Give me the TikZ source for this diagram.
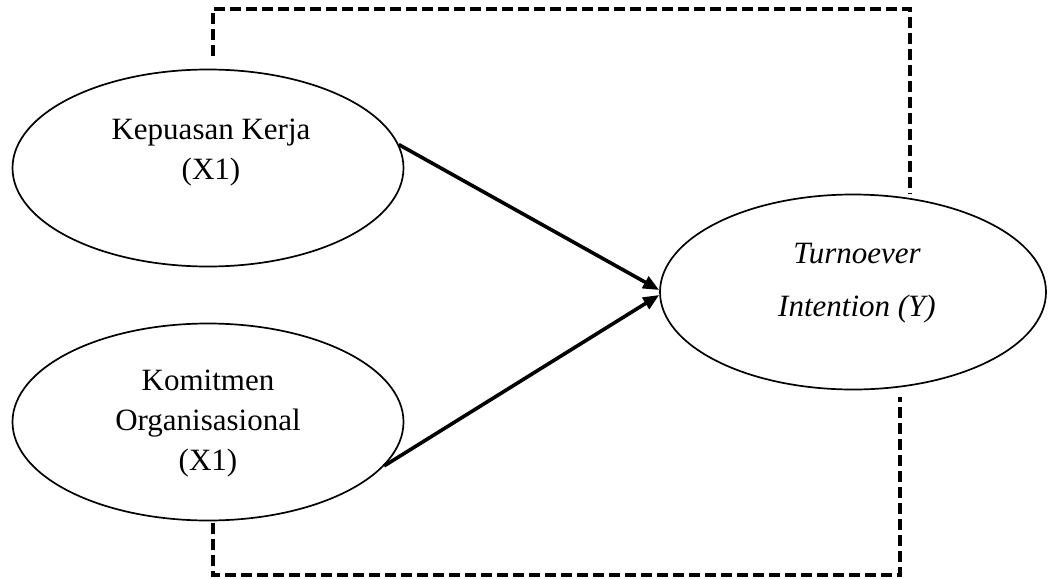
\documentclass[tikz,border=0pt]{standalone}
\usepackage{fontspec}
\setmainfont{Liberation Serif}
\usetikzlibrary{shapes.geometric,arrows.meta}
\begin{document}
\begin{tikzpicture}[x=1pt,y=-1pt,
  oval/.style={draw, ellipse, line width=1.7pt, inner sep=0pt},
  lbl/.style={align=center, font=\fontsize{31}{40}\selectfont, inner sep=0pt},
  dashline/.style={line width=3.8pt, dash pattern=on 11pt off 5pt},
  arr/.style={line width=3.6pt, -{Triangle[length=16pt,width=13pt]}}]
\useasboundingbox (0,0) rectangle (1048,578);
\node[oval, minimum width=391pt, minimum height=197pt] (e1) at (208,168) {};
\node[oval, minimum width=391pt, minimum height=197pt] (e2) at (208,422) {};
\node[oval, minimum width=386pt, minimum height=195pt] (e3) at (853,292) {};
\node[lbl] (t1) at (211,153) {Kepuasan Kerja\\(X1)};
\node[lbl] (t2) at (208,424) {Komitmen\\Organisasional\\(X1)};
\node[lbl, font=\itshape\fontsize{31}{53}\selectfont] (t3) at (857,283) {Turnoever\\Intention (Y)};
\draw[arr] (e1.7.5) -- ([yshift=2pt]e3.west);
\draw[arr] (e2.-14) -- ([yshift=-3pt]e3.west);
\coordinate (tr) at (910,193);
\coordinate (br) at (900,397);
\draw[dashline] ([xshift=5pt,yshift=13pt]e1.north) -- ++(0,-47) -| (tr);
\draw[dashline] ([xshift=5pt,yshift=-2pt]e2.south) -- ++(0,52) -| (br);
\end{tikzpicture}
\end{document}
